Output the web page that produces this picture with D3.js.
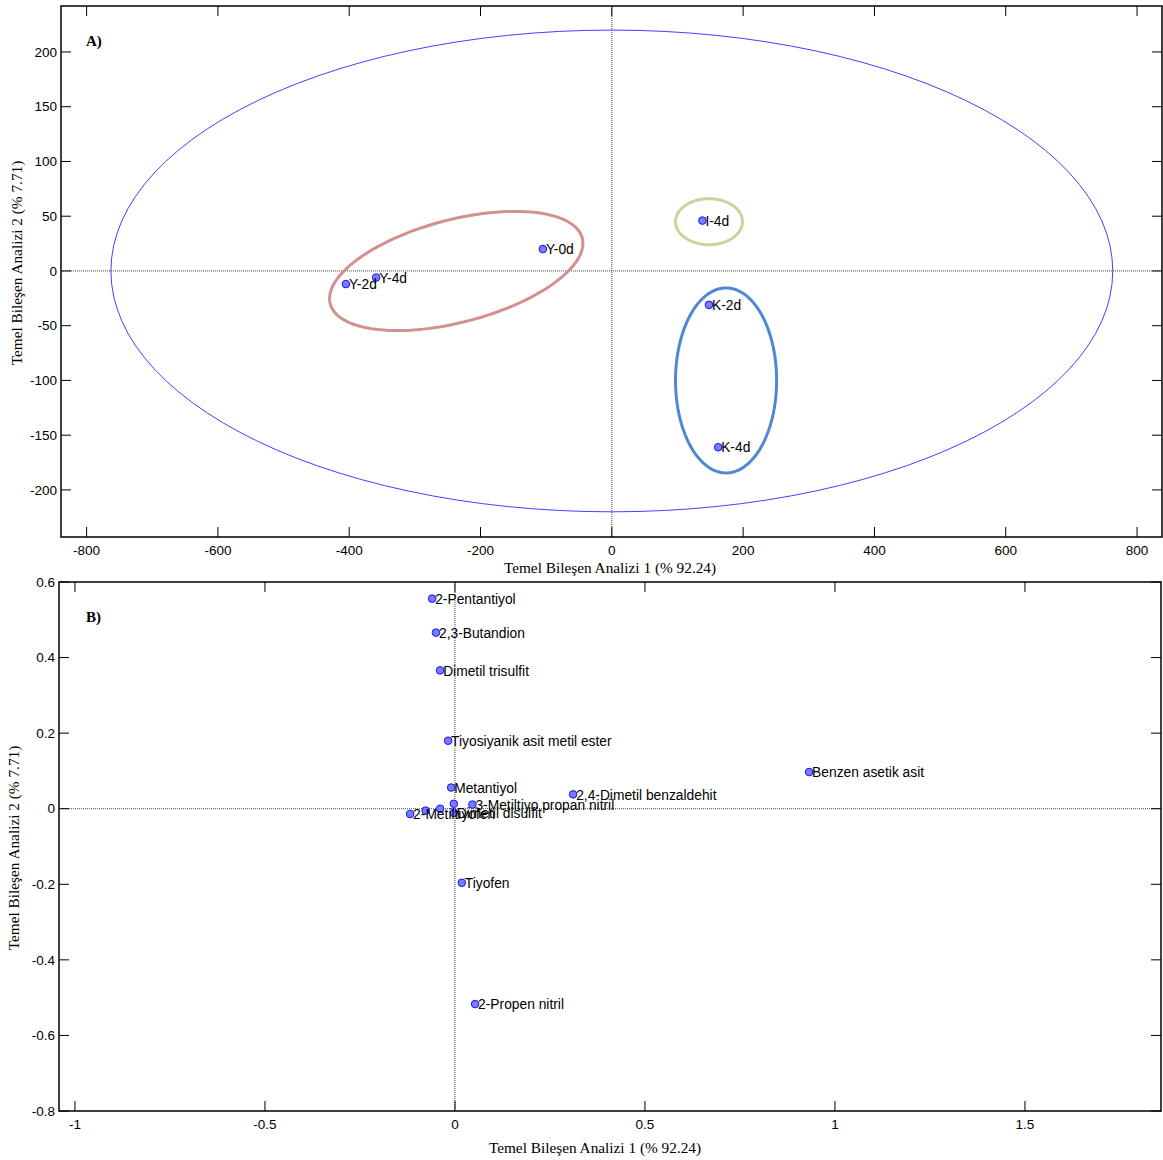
<!DOCTYPE html>
<html>
<head>
<meta charset="utf-8">
<script src="https://cdn.jsdelivr.net/npm/d3@7"></script>
<style>
  body { margin: 0; background: #fff; }
  .tick-label { font-family: "Liberation Sans", Arial, sans-serif; font-size: 13.5px; fill: #000; }
  .axis-title { font-family: "Liberation Serif", "Times New Roman", serif; font-size: 15.3px; fill: #000; }
  .pt-label { font-family: "Liberation Sans", Arial, sans-serif; font-size: 13.8px; fill: #000; }
</style>
</head>
<body>
<div id="chart"></div>
<script>
// ---- panel A: samples ----
var samplesA = ["Y-0d", "Y-4d", "Y-2d", "I-4d", "K-2d", "K-4d"];
var pc1A = [-105, -359, -405, 138, 148, 162];
var pc2A = [20, -6, -12, 46, -31, -161];
var xTicksA = [-800, -600, -400, -200, 0, 200, 400, 600, 800];
var yTicksA = [-200, -150, -100, -50, 0, 50, 100, 150, 200];

// ellipses in data units: centre, two conjugate semi-axis vectors
var ellNames = ["outer", "Y", "I", "K"];
var ellCx = [0, -237, 148, 174];
var ellCy = [0, 0, 45, -100];
var ellAx = [[763, 0], [192, 30], [51, 0], [77, 0]];
var ellBx = [[0, 220], [19.5, -45.4], [0, 21], [0, 84.5]];
var ellColor = ["#2b2bff", "#d4908e", "#c4d79b", "#4f88d2"];
var ellWidth = [0.9, 3, 3, 3];

// ---- panel B: loadings ----
var compounds = ["2-Pentantiyol", "2,3-Butandion", "Dimetil trisulfit", "Tiyosiyanik asit metil ester",
  "Metantiyol", "Benzen asetik asit", "2,4-Dimetil benzaldehit", "3-Metiltiyo propan nitril",
  "2-Metiltiyofen", "", "", "", "Dimetil disulfit", "Tiyofen", "2-Propen nitril"];
var pc1B = [-0.060, -0.050, -0.039, -0.018, -0.010, 0.932, 0.311, 0.046,
  -0.118, -0.077, -0.039, -0.003, -0.003, 0.018, 0.053];
var pc2B = [0.556, 0.466, 0.366, 0.180, 0.056, 0.097, 0.038, 0.011,
  -0.014, -0.005, 0.000, 0.013, -0.011, -0.196, -0.517];
var xTicksB = [-1, -0.5, 0, 0.5, 1, 1.5];
var yTicksB = [-0.8, -0.6, -0.4, -0.2, 0, 0.2, 0.4, 0.6];

var W = 1163, H = 1160;
var svg = d3.select("#chart").append("svg").attr("width", W).attr("height", H);

function panel(opt) {
  var x = d3.scaleLinear().domain(opt.xDomain).range([opt.left, opt.right]);
  var y = d3.scaleLinear().domain(opt.yDomain).range([opt.bottom, opt.top]);
  var g = svg.append("g");
  var tl = 10;

  // zero lines
  g.append("line").attr("x1", opt.left).attr("x2", opt.right)
    .attr("y1", y(0)).attr("y2", y(0))
    .attr("stroke", "#444").attr("stroke-width", 1).attr("stroke-dasharray", "1,1");
  g.append("line").attr("x1", x(0)).attr("x2", x(0))
    .attr("y1", opt.top).attr("y2", opt.bottom)
    .attr("stroke", "#444").attr("stroke-width", 1).attr("stroke-dasharray", "1,1");

  // ticks (inside, on all sides)
  opt.xTicks.forEach(function (t) {
    g.append("line").attr("x1", x(t)).attr("x2", x(t)).attr("y1", opt.bottom).attr("y2", opt.bottom - tl)
      .attr("stroke", "#000");
    g.append("line").attr("x1", x(t)).attr("x2", x(t)).attr("y1", opt.top).attr("y2", opt.top + tl)
      .attr("stroke", "#000");
    g.append("text").attr("class", "tick-label").attr("x", x(t)).attr("y", opt.bottom + 18)
      .attr("text-anchor", "middle").text(String(t));
  });
  opt.yTicks.forEach(function (t) {
    g.append("line").attr("x1", opt.left).attr("x2", opt.left + tl).attr("y1", y(t)).attr("y2", y(t))
      .attr("stroke", "#000");
    g.append("line").attr("x1", opt.right).attr("x2", opt.right - tl).attr("y1", y(t)).attr("y2", y(t))
      .attr("stroke", "#000");
    g.append("text").attr("class", "tick-label").attr("x", opt.left - 4).attr("y", y(t))
      .attr("dy", "0.35em").attr("text-anchor", "end").text(String(t));
  });

  // frame
  g.append("rect").attr("x", opt.left).attr("y", opt.top)
    .attr("width", opt.right - opt.left).attr("height", opt.bottom - opt.top)
    .attr("fill", "none").attr("stroke", "#000").attr("stroke-width", 1.5);

  // axis titles
  g.append("text").attr("class", "axis-title").attr("x", opt.xTitleX).attr("y", opt.bottom + opt.xTitleDy)
    .attr("text-anchor", "middle").text("Temel Bileşen Analizi 1 (% 92.24)");
  g.append("text").attr("class", "axis-title")
    .attr("transform", "translate(" + opt.yTitleX + "," + opt.yTitleY + ") rotate(-90)")
    .attr("text-anchor", "middle").text("Temel Bileşen Analizi 2 (% 7.71)");

  // panel letter
  g.append("text").attr("x", 86).attr("y", opt.top + 40)
    .style("font-family", "'Liberation Serif', serif").style("font-weight", "bold").style("font-size", "15px")
    .text(opt.letter);

  return { g: g, x: x, y: y };
}

function drawPoints(p, xs, ys, names) {
  var data = names.map(function (n, i) { return { name: n, x: xs[i], y: ys[i] }; });
  p.g.selectAll("circle.pt").data(data).enter().append("circle").attr("class", "pt")
    .attr("cx", function (d) { return p.x(d.x); })
    .attr("cy", function (d) { return p.y(d.y); })
    .attr("r", 3.8)
    .attr("fill", "#7b7bff").attr("stroke", "#1010ff").attr("stroke-width", 1);
  p.g.selectAll("text.pt-label").data(data).enter().append("text").attr("class", "pt-label")
    .attr("x", function (d) { return p.x(d.x) + 3; })
    .attr("y", function (d) { return p.y(d.y); })
    .attr("dy", "0.38em")
    .text(function (d) { return d.name; });
}

// ---- panel A ----
var pA = panel({
  xDomain: [-839, 838], yDomain: [-243, 242],
  left: 61, right: 1162, top: 6, bottom: 537,
  xTicks: xTicksA, yTicks: yTicksA,
  xTitleX: 610, xTitleDy: 36, yTitleX: 22, yTitleY: 263, letter: "A)"
});

var ts = d3.range(0, 361, 3).map(function (a) { return a * Math.PI / 180; });
ellNames.forEach(function (n, i) {
  var line = d3.line()
    .x(function (t) { return pA.x(ellCx[i] + ellAx[i][0] * Math.cos(t) + ellBx[i][0] * Math.sin(t)); })
    .y(function (t) { return pA.y(ellCy[i] + ellAx[i][1] * Math.cos(t) + ellBx[i][1] * Math.sin(t)); })
    .curve(d3.curveLinearClosed);
  pA.g.append("path").attr("d", line(ts)).attr("fill", "none")
    .attr("stroke", ellColor[i]).attr("stroke-width", ellWidth[i]);
});
drawPoints(pA, pc1A, pc2A, samplesA);

// ---- panel B ----
var pB = panel({
  xDomain: [-1.042, 1.858], yDomain: [-0.8, 0.6],
  left: 59, right: 1161, top: 582, bottom: 1111,
  xTicks: xTicksB, yTicks: yTicksB,
  xTitleX: 595, xTitleDy: 42, yTitleX: 19, yTitleY: 848, letter: "B)"
});
drawPoints(pB, pc1B, pc2B, compounds);
</script>
</body>
</html>
